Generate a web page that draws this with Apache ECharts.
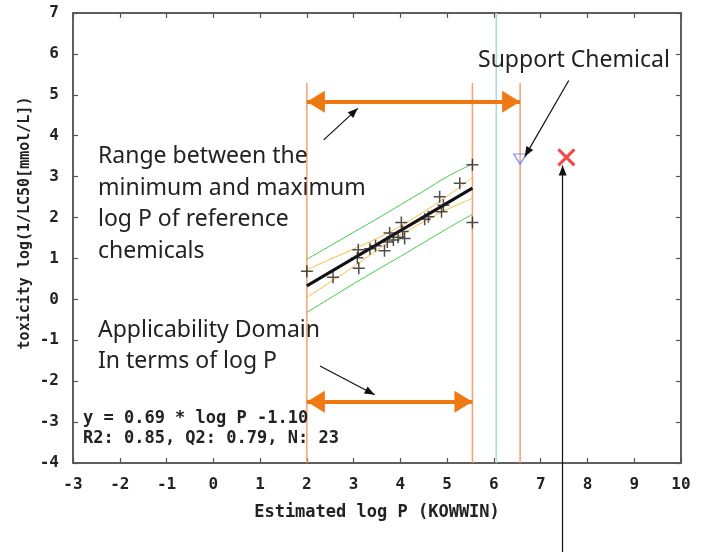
<!DOCTYPE html>
<html><head><meta charset="utf-8">
<script src="https://cdn.jsdelivr.net/npm/echarts@6/dist/echarts.min.js"></script>
<style>html,body{margin:0;padding:0;background:#fff}#c{width:702px;height:552px}</style>
</head><body><div id="c"></div>
<script>
// ---- data ----
const xMin = -3, xMax = 10, yMin = -4, yMax = 7;
const refX = [2.00, 2.56, 3.10, 3.08, 3.11, 3.35, 3.47, 3.66, 3.77, 3.85, 4.02, 4.09, 4.05, 3.95, 4.52, 4.60, 4.84, 4.88, 4.92, 5.27, 5.54, 5.54, 3.72];
const refY = [0.69, 0.54, 1.21, 1.02, 0.76, 1.24, 1.31, 1.19, 1.62, 1.45, 1.88, 1.49, 1.66, 1.52, 1.96, 2.02, 2.51, 2.14, 2.30, 2.84, 3.29, 1.88, 1.40];
const fitX = [2.00, 5.54];
const fitY = [0.33, 2.72];
const bandX = [2.0, 2.5, 3.0, 3.5, 4.0, 4.5, 5.0, 5.54];
const confUpper = [0.72, 0.98, 1.23, 1.49, 1.79, 2.14, 2.52, 2.98];
const confLower = [0.05, 0.42, 0.80, 1.20, 1.57, 1.90, 2.20, 2.47];
const predUpper = [0.98, 1.31, 1.64, 1.97, 2.31, 2.65, 3.00, 3.31];
const predLower = [-0.32, 0.03, 0.38, 0.72, 1.05, 1.39, 1.73, 2.08];
const domainLineX = [2.00, 5.54, 6.56];
const domainLineTop = 5.29;
const blueLineX = 6.05;
const supportPoint = [6.56, 3.43];
const targetPoint = [7.55, 3.47];
const rangeArrowX = [2.00, 6.56], rangeArrowY = 4.83;
const domainArrowX = [2.00, 5.54], domainArrowY = -2.50;
const pointerArrows = [
  [2.36, 3.90, 3.09, 4.67],
  [2.28, -1.63, 3.45, -2.33],
  [7.60, 5.35, 6.66, 3.49],
  [7.47, -6.2, 7.47, 3.27]
];
const xTitle = 'Estimated log P (KOWWIN)';
const yTitle = 'toxicity log(1/LC50[mmol/L])';
const formulaLines = ['y = 0.69 * log P -1.10', 'R2: 0.85, Q2: 0.79, N: 23'];
const noteRange = ['Range between the', 'minimum and maximum', 'log P of reference', 'chemicals'];
const noteDomain = ['Applicability Domain', 'In terms of log P'];
const noteSupport = 'Support Chemical';

// ---- chart ----
const mono = '"DejaVu Sans Mono", "Liberation Mono", monospace';
const sans = '"Noto Sans", "Liberation Sans", sans-serif';
const axisCol = '#555';
const orange = '#f07810';
const chart = echarts.init(document.getElementById('c'), null, {renderer: 'canvas'});

function baseAxis(extra) {
  return Object.assign({
    type: 'value', interval: 1,
    splitLine: {show: false},
    axisLine: {show: true, onZero: false, lineStyle: {color: axisCol, width: 1.5}},
    axisTick: {show: true, inside: true, length: 5, lineStyle: {color: axisCol, width: 1.2}},
  }, extra);
}
const lineS = (data, color, width, extra) => Object.assign({
  type: 'line', data, symbol: 'none', silent: true, animation: false,
  lineStyle: {color, width}, z: 2
}, extra || {});
const zip = (xs, ys) => xs.map((x, i) => [x, ys[i]]);

const series = [];
series.push(lineS([[blueLineX, yMin], [blueLineX, yMax]], '#add8e6', 1.5));
domainLineX.forEach(x => series.push(lineS([[x, domainLineTop], [x, yMin]], '#f5a070', 1.5)));
series.push(lineS(zip(bandX, predUpper), '#4c4', 1, {smooth: 0.3}));
series.push(lineS(zip(bandX, predLower), '#4c4', 1, {smooth: 0.3}));
series.push(lineS(zip(bandX, confUpper), '#ffbb44', 1, {smooth: 0.3}));
series.push(lineS(zip(bandX, confLower), '#ffbb44', 1, {smooth: 0.3}));
series.push(lineS(zip(fitX, fitY), '#111', 3, {z: 4}));
series.push({
  type: 'scatter', data: zip(refX, refY), silent: true, animation: false, z: 5,
  symbol: 'path://M5,0L5,10M0,5L10,5', symbolSize: 12,
  itemStyle: {color: 'transparent', borderColor: '#222', borderWidth: 1.5}
});
series.push({
  type: 'scatter', data: [supportPoint], silent: true, animation: false, z: 5,
  symbol: 'triangle', symbolRotate: 180, symbolSize: [13, 10],
  itemStyle: {color: 'transparent', borderColor: '#5577ff', borderWidth: 1.2}
});
series.push({
  type: 'scatter', data: [targetPoint], silent: true, animation: false, z: 5,
  symbol: 'path://M0,0L10,10M10,0L0,10', symbolSize: 16,
  itemStyle: {color: 'transparent', borderColor: '#ee1c1c', borderWidth: 3}
});
const orangeArrows = [
  [[rangeArrowX[0], rangeArrowY], [rangeArrowX[1], rangeArrowY]],
  [[domainArrowX[0], domainArrowY], [domainArrowX[1], domainArrowY]]
];
const thinArrows = pointerArrows.map(a => [[a[0], a[1]], [a[2], a[3]]]);
series.push({
  type: 'lines', coordinateSystem: 'cartesian2d', silent: true, animation: false, z: 6,
  data: orangeArrows.map(c => ({coords: c})), symbol: 'none',
  lineStyle: {color: orange, width: 4, opacity: 1}
});
series.push({
  type: 'lines', coordinateSystem: 'cartesian2d', silent: true, animation: false, z: 6, clip: false,
  data: thinArrows.map(c => ({coords: c})), symbol: 'none',
  lineStyle: {color: '#111', width: 1.2, opacity: 1}
});

const option = {
  backgroundColor: '#fff',
  animation: false,
  grid: {left: 73, right: 21, top: 13, bottom: 89, show: true, borderColor: axisCol, borderWidth: 1.5},
  xAxis: [
    baseAxis({min: xMin, max: xMax, position: 'bottom',
      name: xTitle, nameLocation: 'middle', nameGap: 41,
      nameTextStyle: {fontFamily: mono, fontWeight: 'bold', fontSize: 17, color: '#222'},
      axisLabel: {fontFamily: mono, fontWeight: 'bold', fontSize: 16, color: '#222', margin: 14}}),
    baseAxis({min: xMin, max: xMax, position: 'top', axisLabel: {show: false}})
  ],
  yAxis: [
    baseAxis({min: yMin, max: yMax, position: 'left',
      axisLabel: {fontFamily: mono, fontWeight: 'bold', fontSize: 16, color: '#222', margin: 14}}),
    baseAxis({min: yMin, max: yMax, position: 'right', axisLabel: {show: false}})
  ],
  series,
  graphic: [
    {type: 'text', x: 25, y: 223, rotation: Math.PI / 2, silent: true, z: 10,
     style: {text: yTitle, font: 'bold 15px ' + mono, fill: '#222', align: 'center', verticalAlign: 'middle'}},
    {type: 'text', left: 98, top: 141, silent: true, z: 10,
     style: {text: noteRange.join('\n'), font: '23px ' + sans, fill: '#222', lineHeight: 31.5}},
    {type: 'text', left: 98, top: 315, silent: true, z: 10,
     style: {text: noteDomain.join('\n'), font: '23px ' + sans, fill: '#222', lineHeight: 31}},
    {type: 'text', left: 478, top: 49, silent: true, z: 10,
     style: {text: noteSupport, font: '23px ' + sans, fill: '#222'}},
    {type: 'text', left: 83, top: 409, silent: true, z: 10,
     style: {text: formulaLines.join('\n'), font: 'bold 17px ' + mono, fill: '#222', lineHeight: 20}}
  ]
};
chart.setOption(option);

// arrowheads: tip placed exactly on the end point, oriented along the segment
function head(from, to, len) {
  const p0 = chart.convertToPixel({gridIndex: 0}, from);
  const p1 = chart.convertToPixel({gridIndex: 0}, to);
  const dx = p1[0] - p0[0], dy = p1[1] - p0[1];
  const d = Math.hypot(dx, dy) || 1;
  const ux = dx / d, uy = dy / d;
  return {
    value: to,
    symbolRotate: Math.atan2(-ux, -uy) * 180 / Math.PI,
    symbolOffset: [-ux * len / 2, -uy * len / 2]
  };
}
const orangeHeads = [];
orangeArrows.forEach(c => { orangeHeads.push(head(c[0], c[1], 18)); orangeHeads.push(head(c[1], c[0], 18)); });
const thinHeads = thinArrows.map(c => head(c[0], c[1], 10));
chart.setOption({series: series.concat([
  {type: 'scatter', data: orangeHeads, silent: true, animation: false, z: 7,
   symbol: 'triangle', symbolSize: [22, 18], itemStyle: {color: orange, opacity: 1}},
  {type: 'scatter', data: thinHeads, silent: true, animation: false, z: 7,
   symbol: 'triangle', symbolSize: [8, 10], itemStyle: {color: '#111', opacity: 1}}
])});
</script></body></html>
